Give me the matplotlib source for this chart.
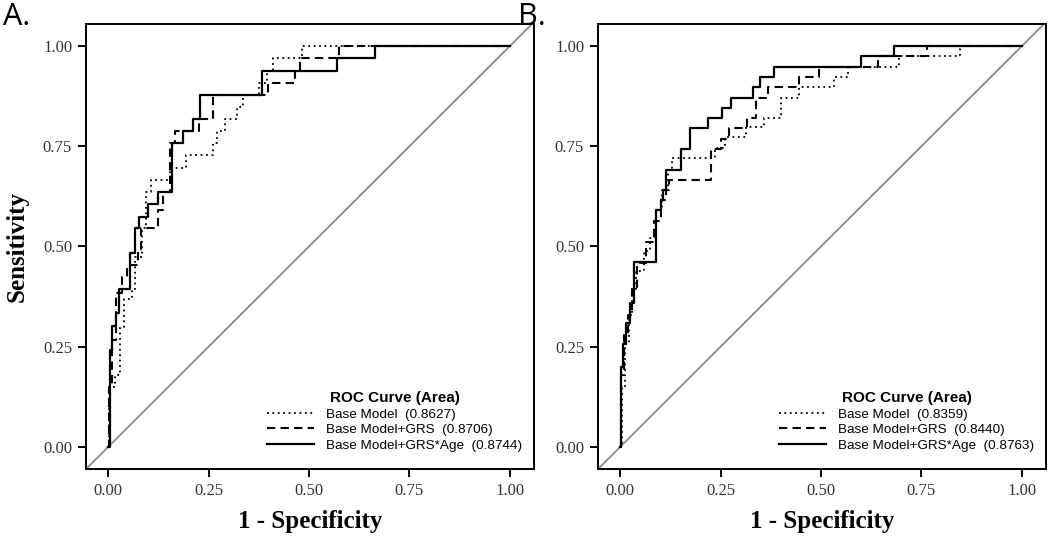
import matplotlib
matplotlib.use("Agg")
import matplotlib.pyplot as plt

# ---------------- data (ROC staircase vertices: FPR where the step occurs, TPR after it)
ticks = [0.0, 0.25, 0.5, 0.75, 1.0]
labels = ["Base Model", "Base Model+GRS", "Base Model+GRS*Age"]
auc_a = ["0.8627", "0.8706", "0.8744"]
auc_b = ["0.8359", "0.8440", "0.8763"]

# Panel A
a_base_fpr = [0, 0.003, 0.016, 0.030, 0.040, 0.060, 0.067, 0.084, 0.094, 0.108, 0.155, 0.194, 0.260,
              0.270, 0.290, 0.320, 0.336, 0.375, 0.395, 0.411, 0.482, 1.0]
a_base_tpr = [0, 0.150, 0.180, 0.300, 0.370, 0.394, 0.475, 0.545, 0.636, 0.666, 0.697, 0.727, 0.757,
              0.788, 0.818, 0.848, 0.878, 0.908, 0.939, 0.969, 1.0, 1.0]

a_grs_fpr = [0, 0.003, 0.009, 0.020, 0.034, 0.046, 0.075, 0.082, 0.125, 0.136, 0.153, 0.167, 0.225,
             0.260, 0.399, 0.465, 0.478, 0.575, 1.0]
a_grs_tpr = [0, 0.150, 0.267, 0.384, 0.425, 0.454, 0.490, 0.545, 0.590, 0.637, 0.757, 0.788, 0.817,
             0.878, 0.908, 0.938, 0.969, 1.0, 1.0]

a_age_fpr = [0, 0.005, 0.009, 0.020, 0.026, 0.054, 0.067, 0.078, 0.100, 0.125, 0.158, 0.187, 0.212,
             0.229, 0.382, 0.570, 0.664, 1.0]
a_age_tpr = [0, 0.242, 0.302, 0.333, 0.394, 0.485, 0.545, 0.574, 0.606, 0.637, 0.757, 0.788, 0.817,
             0.878, 0.938, 0.969, 1.0, 1.0]

# Panel B
b_base_fpr = [0, 0.005, 0.012, 0.022, 0.030, 0.040, 0.060, 0.075, 0.090, 0.105, 0.118, 0.128, 0.235,
              0.260, 0.314, 0.358, 0.400, 0.446, 0.533, 0.566, 0.693, 0.845, 1.0]
b_base_tpr = [0, 0.150, 0.260, 0.330, 0.390, 0.440, 0.490, 0.520, 0.590, 0.640, 0.690, 0.720, 0.745,
              0.774, 0.799, 0.820, 0.870, 0.897, 0.923, 0.948, 0.974, 1.0, 1.0]

b_grs_fpr = [0, 0.003, 0.010, 0.020, 0.030, 0.042, 0.064, 0.085, 0.103, 0.115, 0.122, 0.226, 0.250,
             0.270, 0.317, 0.338, 0.367, 0.446, 0.496, 0.642, 0.763, 1.0]
b_grs_tpr = [0, 0.180, 0.280, 0.330, 0.400, 0.460, 0.510, 0.564, 0.615, 0.641, 0.666, 0.743, 0.769,
             0.795, 0.820, 0.870, 0.897, 0.924, 0.948, 0.975, 1.0, 1.0]

b_age_fpr = [0, 0.003, 0.008, 0.015, 0.025, 0.035, 0.089, 0.101, 0.107, 0.115, 0.151, 0.175, 0.218,
             0.253, 0.277, 0.330, 0.347, 0.382, 0.600, 0.681, 1.0]
b_age_tpr = [0, 0.200, 0.256, 0.308, 0.359, 0.461, 0.591, 0.616, 0.641, 0.691, 0.743, 0.795, 0.820,
             0.845, 0.870, 0.897, 0.924, 0.948, 0.975, 1.0, 1.0]

panels = [
    ("A.", auc_a, [(a_base_fpr, a_base_tpr), (a_grs_fpr, a_grs_tpr), (a_age_fpr, a_age_tpr)]),
    ("B.", auc_b, [(b_base_fpr, b_base_tpr), (b_grs_fpr, b_grs_tpr), (b_age_fpr, b_age_tpr)]),
]

styles = [
    dict(linestyle=(0, (1, 2)), linewidth=1.3),
    dict(linestyle=(0, (4, 2.5)), linewidth=1.5),
    dict(linestyle="-", linewidth=1.6),
]

fig = plt.figure(figsize=(10.5, 5.4), dpi=100)
positions = [[86 / 1050, 71 / 540, 448 / 1050, 445 / 540],
             [598 / 1050, 71 / 540, 448 / 1050, 445 / 540]]

serif = "Liberation Serif"
sans = "Liberation Sans"

for i, (pl, aucs, curves) in enumerate(panels):
    ax = fig.add_axes(positions[i])
    ax.set_xlim(-0.055, 1.06)
    ax.set_ylim(-0.055, 1.055)
    ax.axline((0, 0), (1, 1), color="#8a8a8a", linewidth=1.3, zorder=1)
    handles = []
    for (fx, ty), st, lab, auc in zip(curves, styles, labels, aucs):
        h, = ax.plot(fx, ty, drawstyle="steps-post", color="black", zorder=3,
                     label=f"{lab}  ({auc})", **st)
        handles.append(h)
    ax.set_xticks(ticks)
    ax.set_yticks(ticks)
    ax.set_xticklabels([f"{t:.2f}" for t in ticks], fontfamily=serif, fontsize=12, color="#333333")
    ax.set_yticklabels([f"{t:.2f}" for t in ticks], fontfamily=serif, fontsize=12, color="#333333")
    ax.tick_params(direction="out", length=6, width=1.4, color="black", pad=4)
    for sp in ax.spines.values():
        sp.set_linewidth(1.4)
    ax.set_xlabel("1 - Specificity", fontfamily=serif, fontsize=18, fontweight="bold", labelpad=8)
    if i == 0:
        ax.set_ylabel("Sensitivity", fontfamily=serif, fontsize=18, fontweight="bold", labelpad=10)
    ax.legend(handles=handles, loc="lower right", bbox_to_anchor=(0.982, 0.03),
              frameon=False, title="ROC Curve (Area)", handlelength=3.5,
              handletextpad=0.85, labelspacing=0.22, borderpad=0.3, borderaxespad=0,
              prop={"family": sans, "size": 9.7},
              title_fontproperties={"family": sans, "size": 11, "weight": "bold"})
    fig.text(positions[i][0] - (83 if i == 0 else 80) / 1050, 1 - 2 / 540, pl,
             fontfamily="Open Sans", fontsize=22, ha="left", va="top")

fig.savefig("out.png", dpi=100)
